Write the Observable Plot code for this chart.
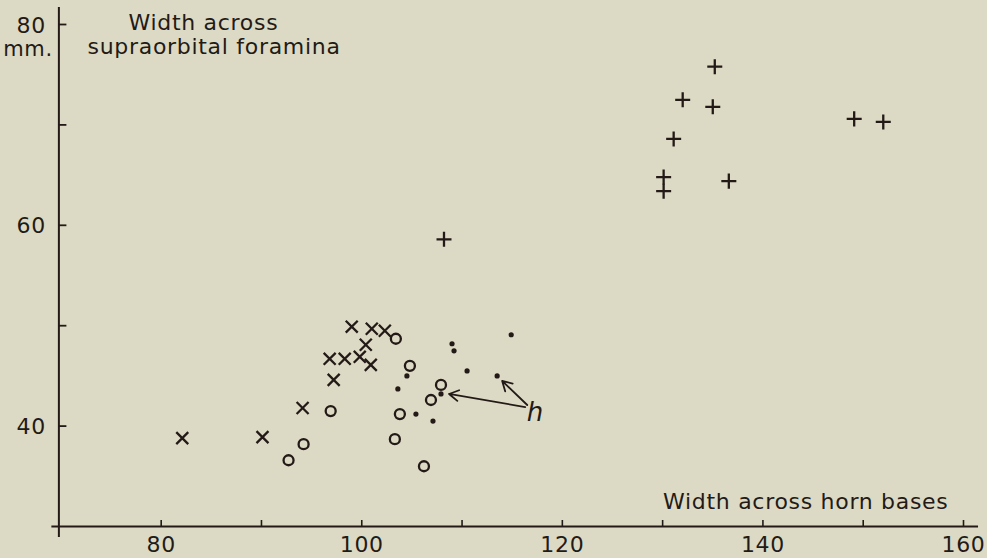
<!DOCTYPE html>
<html>
<head>
<meta charset="utf-8">
<script src="https://cdn.jsdelivr.net/npm/d3@7"></script>
<script src="https://cdn.jsdelivr.net/npm/@observablehq/plot@0.6"></script>
<style>
  html, body { margin: 0; padding: 0; background: #dcdac4; }
  #chart { width: 987px; height: 558px; }
</style>
</head>
<body>
<div id="chart"></div>
<script>
// Width across horn bases (x) vs width across supraorbital foramina (y), mm
const crossX = [82.1, 90.1, 94.1, 97.2, 96.8, 98.3, 99.0, 99.8, 100.4, 101.0, 100.9, 102.3];
const crossY = [38.8, 38.9, 41.8, 44.6, 46.7, 46.7, 49.9, 46.9, 48.1, 49.7, 46.1, 49.5];

const circleX = [92.7, 94.2, 96.9, 103.4, 104.8, 103.8, 103.3, 106.2, 106.9, 107.9];
const circleY = [36.6, 38.2, 41.5, 48.7, 46.0, 41.2, 38.7, 36.0, 42.6, 44.1];

const dotX = [104.5, 103.6, 105.4, 107.9, 107.1, 109.0, 109.2, 110.5, 113.5, 114.9];
const dotY = [45.0, 43.7, 41.2, 43.2, 40.5, 48.2, 47.5, 45.5, 45.0, 49.1];

const plusX = [108.2, 135.2, 132.0, 135.0, 131.1, 130.1, 130.1, 136.6, 149.1, 152.0];
const plusY = [58.6, 75.8, 72.5, 71.8, 68.6, 64.8, 63.4, 64.4, 70.6, 70.3];

// "h" annotation: arrows from label to two points
const arrowFromX = [116.3, 116.5];
const arrowFromY = [41.9, 42.1];
const arrowToX = [108.7, 114.0];
const arrowToY = [43.2, 44.5];
const hLabel = ["h"];
const hX = [117.3];
const hY = [41.3];

// ticks and labels
const xLabelTicks = [80, 100, 120, 140, 160];
const xAllTicks = [80, 90, 100, 110, 120, 130, 140, 150, 160];
const yLabelTicks = [40, 60, 80];
const yAllTicks = [40, 50, 60, 70, 80];
const xDomain = [70, 160];
const yDomain = [30, 80];
const xAxisLine = [69.1, 161.5];
const yAxisLine = [28.9, 81.7];
const yAxisAt = [69.8];
const xAxisAt = [30];

const titleLine1 = "Width across";
const titleLine2 = "supraorbital foramina";
const unitLabel = "mm.";
const xTitle = "Width across horn bases";

const ink = "#231a17";
const font = "DejaVu Sans, sans-serif";

const W = 987, H = 558, mL = 60.4, mR = 24, mT = 24, mB = 32;
const frameW = W - mL - mR, frameH = H - mT - mB;

const toPts = (xs, ys) => xs.map((x, i) => ({x, y: ys[i]}));
const crosses = toPts(crossX, crossY);
const circles = toPts(circleX, circleY);
const dots = toPts(dotX, dotY);
const pluses = toPts(plusX, plusY);
const arrows = arrowFromX.map((x, i) => ({x1: x, y1: arrowFromY[i], x2: arrowToX[i], y2: arrowToY[i]}));
const hData = hLabel.map((t, i) => ({t, x: hX[i], y: hY[i]}));

const chart = Plot.plot({
  width: W,
  height: H,
  marginLeft: mL,
  marginRight: mR,
  marginTop: mT,
  marginBottom: mB,
  style: {background: "#dcdac4", color: ink, fontFamily: font, letterSpacing: "0.7px"},
  x: {domain: xDomain},
  y: {domain: yDomain},
  marks: [
    // axis lines
    Plot.ruleY(xAxisAt, {x1: xAxisLine[0], x2: xAxisLine[1], stroke: ink, strokeWidth: 2}),
    Plot.ruleX(yAxisAt, {y1: yAxisLine[0], y2: yAxisLine[1], stroke: ink, strokeWidth: 2}),
    // inward ticks
    Plot.tickX(xAllTicks, {x: d => d, insetTop: frameH - 6, stroke: ink, strokeWidth: 1.6}),
    Plot.tickY(yAllTicks, {y: d => d, insetLeft: -2, insetRight: frameW - 6, stroke: ink, strokeWidth: 1.8}),
    // tick labels
    Plot.axisX({ticks: xLabelTicks, tickSize: 0, tickPadding: 10, fontSize: 22, fill: ink, fontFamily: font}),
    Plot.axisY({ticks: yLabelTicks, tickSize: 0, tickPadding: 15, fontSize: 22, fill: ink, fontFamily: font, dy: 1}),
    // titles
    Plot.text([unitLabel], {text: d => d, frameAnchor: "top-left", textAnchor: "end", lineAnchor: "middle", dx: -8, dy: 25, fontSize: 21, fill: ink, fontFamily: font}),
    Plot.text([titleLine1], {text: d => d, frameAnchor: "top-left", textAnchor: "start", lineAnchor: "middle", dx: 67.6, dy: -1.7, fontSize: 22, fill: ink, fontFamily: font}),
    Plot.text([titleLine2], {text: d => d, frameAnchor: "top-left", textAnchor: "start", lineAnchor: "middle", dx: 26.6, dy: 22.3, fontSize: 22, fill: ink, fontFamily: font}),
    Plot.text([xTitle], {text: d => d, frameAnchor: "bottom-right", textAnchor: "end", lineAnchor: "middle", dx: -15, dy: -25, fontSize: 22, fill: ink, fontFamily: font}),
    // data
    Plot.dot(crosses, {x: "x", y: "y", symbol: "times", r: 5.5, stroke: ink, strokeWidth: 2.3}),
    Plot.dot(circles, {x: "x", y: "y", symbol: "circle", r: 5, stroke: ink, fill: "none", strokeWidth: 2.3}),
    Plot.dot(dots, {x: "x", y: "y", symbol: "circle", r: 2.6, fill: ink, stroke: "none"}),
    Plot.dot(pluses, {x: "x", y: "y", symbol: "plus", r: 4.9, stroke: ink, strokeWidth: 2.3}),
    // h annotation
    Plot.arrow(arrows, {x1: "x1", y1: "y1", x2: "x2", y2: "y2", stroke: ink, strokeWidth: 1.8, headLength: 9}),
    Plot.text(hData, {x: "x", y: "y", text: "t", fontSize: 26, fontStyle: "italic", fill: ink, fontFamily: font})
  ]
});
document.getElementById("chart").appendChild(chart);
</script>
</body>
</html>
